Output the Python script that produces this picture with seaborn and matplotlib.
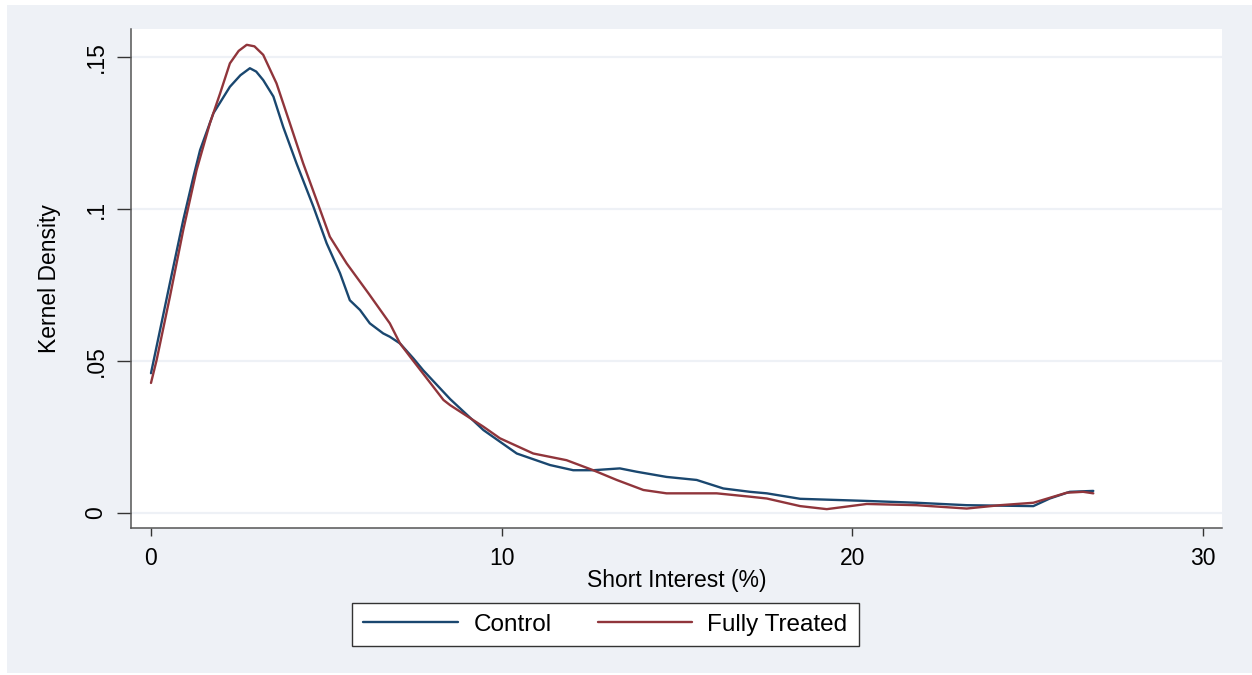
# Densidad kernel del short interest: Control vs Fully Treated
import matplotlib
matplotlib.use('Agg')
import matplotlib.pyplot as plt
import pandas as pd
import seaborn as sns
from matplotlib.patches import Rectangle

# --- Datos ---
control_x = [0.0, 0.54, 0.92, 1.21, 1.40, 1.78, 2.25, 2.55, 2.82, 3.00, 3.20, 3.49,
             3.77, 4.15, 4.63, 5.01, 5.39, 5.67, 5.96, 6.24, 6.62, 6.81, 7.10, 7.48,
             7.76, 8.53, 9.48, 10.43, 11.38, 12.04, 12.61, 13.37, 13.85, 14.70, 15.56,
             16.32, 17.08, 17.56, 18.51, 20.41, 21.83, 23.26, 25.16, 25.63, 26.20, 26.87]
control_y = [0.0460, 0.0757, 0.0964, 0.1106, 0.1194, 0.1315, 0.1402, 0.1440, 0.1463,
             0.1452, 0.1424, 0.1370, 0.1270, 0.1150, 0.1008, 0.0887, 0.0789, 0.0700,
             0.0668, 0.0624, 0.0591, 0.0580, 0.0558, 0.0509, 0.0470, 0.0375, 0.0273,
             0.0196, 0.0158, 0.0141, 0.0141, 0.0147, 0.0136, 0.0119, 0.0109, 0.0081,
             0.0070, 0.0065, 0.0047, 0.0040, 0.0034, 0.0026, 0.0023, 0.0048, 0.0070,
             0.0073]

treated_x = [0.0, 0.16, 0.54, 0.92, 1.30, 1.68, 1.97, 2.25, 2.50, 2.73, 2.95, 3.20,
             3.58, 3.96, 4.34, 4.72, 5.10, 5.58, 6.20, 6.81, 7.10, 7.39, 8.34, 8.53,
             9.48, 9.95, 10.90, 11.85, 12.61, 13.28, 14.04, 14.70, 16.13, 17.08, 17.56,
             18.51, 19.27, 20.41, 21.83, 23.26, 24.21, 25.16, 26.11, 26.58, 26.87]
treated_y = [0.0428, 0.0503, 0.0712, 0.0931, 0.1128, 0.1282, 0.1380, 0.1479, 0.1520,
             0.1540, 0.1535, 0.1507, 0.1413, 0.1282, 0.1150, 0.1030, 0.0909, 0.0821,
             0.0723, 0.0624, 0.0558, 0.0514, 0.0372, 0.0355, 0.0284, 0.0246, 0.0196,
             0.0174, 0.0141, 0.0109, 0.0076, 0.0065, 0.0065, 0.0054, 0.0048, 0.0023,
             0.0013, 0.0030, 0.0026, 0.0015, 0.0026, 0.0034, 0.0067, 0.0070, 0.0065]

groups = ['Control', 'Fully Treated']
colors = ['#1a476f', '#90353b']
x_ticks = [0, 10, 20, 30]
y_ticks = [0, 0.05, 0.1, 0.15]
y_labels = ['0', '.05', '.1', '.15']

df = pd.concat([
    pd.DataFrame({'x': control_x, 'y': control_y, 'grupo': groups[0]}),
    pd.DataFrame({'x': treated_x, 'y': treated_y, 'grupo': groups[1]}),
])

sns.set_style('white')
plt.rcParams['font.family'] = ['Liberation Sans', 'DejaVu Sans']
plt.rcParams['text.color'] = 'black'
plt.rcParams['axes.labelcolor'] = 'black'
plt.rcParams['xtick.color'] = 'black'
plt.rcParams['ytick.color'] = 'black'

fig = plt.figure(figsize=(12.52, 6.75), dpi=100, facecolor='white')
# fondo gris-azulado estilo Stata
fig.patches.append(Rectangle((7 / 1252, 2 / 675), 1245 / 1252, 668 / 675,
                             transform=fig.transFigure, facecolor='#eef1f6',
                             edgecolor='none', zorder=-5))
ax = fig.add_axes([131 / 1252, 147 / 675, 1091 / 1252, 499 / 675])
ax.set_zorder(2)
ax.set_facecolor('white')

sns.lineplot(data=df, x='x', y='y', hue='grupo', palette=colors, linewidth=1.7,
             sort=False, estimator=None, ax=ax, legend=False, zorder=3)

ax.set_xlim(-0.57, 30.54)
ax.set_ylim(-0.0049, 0.1592)
ax.set_xticks(x_ticks)
ax.set_yticks(y_ticks)
ax.set_yticklabels(y_labels, rotation=90, va='center')
ax.grid(axis='y', color='#eef1f6', linewidth=1.6, zorder=1)
ax.grid(axis='x', visible=False)

for s in ['top', 'right']:
    ax.spines[s].set_visible(False)
for s in ['left', 'bottom']:
    ax.spines[s].set_color('#555555')
    ax.spines[s].set_linewidth(1.1)

ax.tick_params(axis='y', length=10, width=1, color='#333333', pad=7, labelsize=16.5,
               direction='out', left=True)
ax.tick_params(axis='x', length=6, width=1, color='#333333', pad=8, labelsize=16.5,
               direction='out', bottom=True)

ax.set_xlabel('Short Interest (%)', fontsize=16.5, labelpad=-1)
ax.set_ylabel('Kernel Density', fontsize=16.5, labelpad=17)

handles = [plt.Line2D([], [], color=c, linewidth=1.7) for c in colors]
leg = fig.legend(handles, groups, loc='center', ncol=2,
                 bbox_to_anchor=(605.5 / 1252, 1 - 624.5 / 675),
                 fontsize=17.5, frameon=True, fancybox=False, handlelength=3.9,
                 handletextpad=0.62, columnspacing=1.9, borderpad=0.45)
leg.get_frame().set_edgecolor('#333333')
leg.get_frame().set_linewidth(1.0)
leg.get_frame().set_facecolor('white')
leg.get_frame().set_alpha(1)

fig.savefig('out.png', dpi=100, facecolor=fig.get_facecolor())
